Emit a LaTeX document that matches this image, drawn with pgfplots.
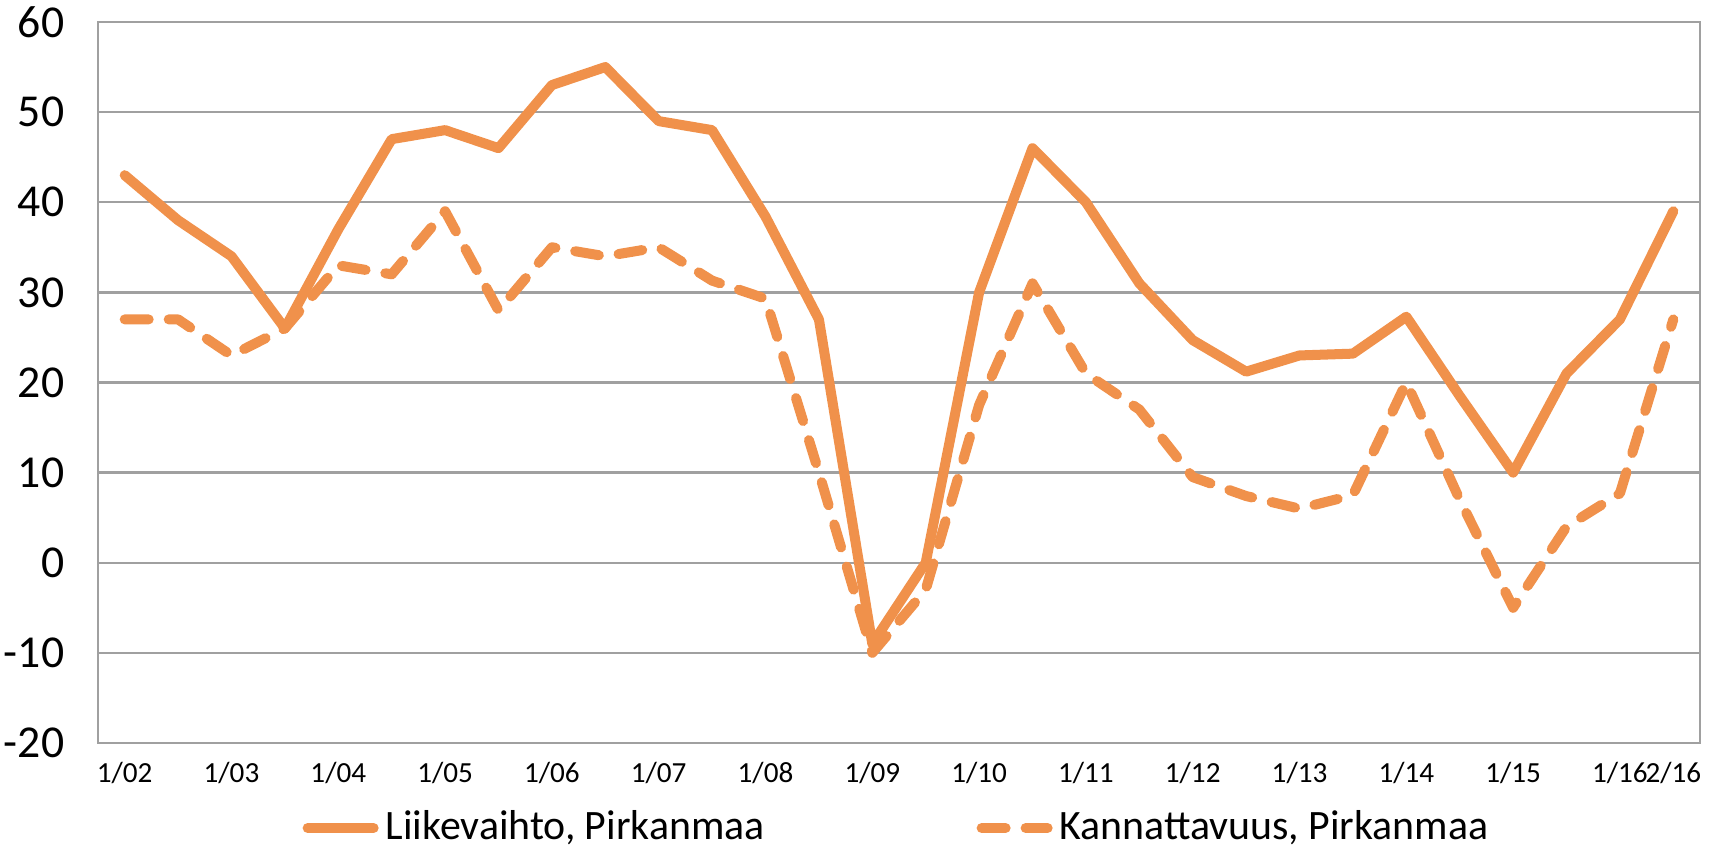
\documentclass[border=0pt]{standalone}
\usepackage{fontspec}
\setmainfont{Carlito}
\usepackage{pgfplots}
\pgfplotsset{compat=1.18}
\definecolor{orng}{HTML}{F0914B}
\definecolor{gridgray}{HTML}{A0A0A0}
\begin{document}
\begin{tikzpicture}
\begin{axis}[
  width=16.02cm, height=7.21cm, scale only axis,
  xmin=-0.5, xmax=29.5, ymin=-20, ymax=60,
  ytick={-20,-10,0,10,20,30,40,50,60},
  xtick={0,2,4,6,8,10,12,14,16,18,20,22,24,26,28,29},
  xticklabels={1/02,1/03,1/04,1/05,1/06,1/07,1/08,1/09,1/10,1/11,1/12,1/13,1/14,1/15,1/16,2/16},
  major tick length=0pt,
  ymajorgrids, grid style={gridgray, line width=0.7pt},
  axis line style={gridgray, line width=0.8pt},
  /pgf/number format/assume math mode=true,
  yticklabel style={font=\fontsize{13}{15}\selectfont, inner sep=0pt, xshift=-3.3mm},
  xticklabel style={font=\fontsize{8.3}{10}\selectfont, inner sep=0pt, yshift=-1.9mm},
  legend columns=2,
  legend style={at={(0.5,-0.118)}, anchor=center, draw=none, fill=none,
    font=\fontsize{11.9}{13}\selectfont, inner sep=0pt,
    /tikz/every even column/.append style={column sep=2.05cm}},
  legend image code/.code={\draw[#1, line cap=round] (0mm,0mm) -- (6.6mm,0mm);},
]
\coordinate (bl) at (rel axis cs:0,0);
\coordinate (tr) at (rel axis cs:1,1);
\addplot[orng, line width=2.85pt, line join=round, line cap=round] coordinates {
(0,43) (1,38) (2,34) (3,26) (4,37) (5,47) (6,48) (7,46) (8,53) (9,55)
(10,49) (11,48) (12,38.4) (13,27) (14,-9) (15,0) (16,30) (17,46) (18,40) (19,31)
(20,24.7) (21,21.2) (22,23) (23,23.2) (24,27.3) (25,18.5) (26,10) (27,21) (28,27) (29,39)
};
\addlegendentry{Liikevaihto, Pirkanmaa}
\addplot[orng, line width=2.85pt, line join=round, line cap=round, dash pattern=on 2.4mm off 2.0mm] coordinates {
(0,27) (1,27) (2,23) (3,26) (4,33) (5,32) (6,39) (7,28) (8,35) (9,34)
(10,35) (11,31.3) (12,29.3) (13,10) (14,-10) (15,-3) (16,17.5) (17,31) (18,21) (19,17)
(20,9.5) (21,7.4) (22,6) (23,7.5) (24,20) (25,7) (26,-5) (27,4) (28,7.7) (29,27)
};
\addlegendentry{Kannattavuus, Pirkanmaa}
\end{axis}
\pgfresetboundingbox
\path[use as bounding box] ([xshift=-9.8mm,yshift=-10.8mm]bl) rectangle ([xshift=1.4mm,yshift=2.2mm]tr);
\end{tikzpicture}
\end{document}
